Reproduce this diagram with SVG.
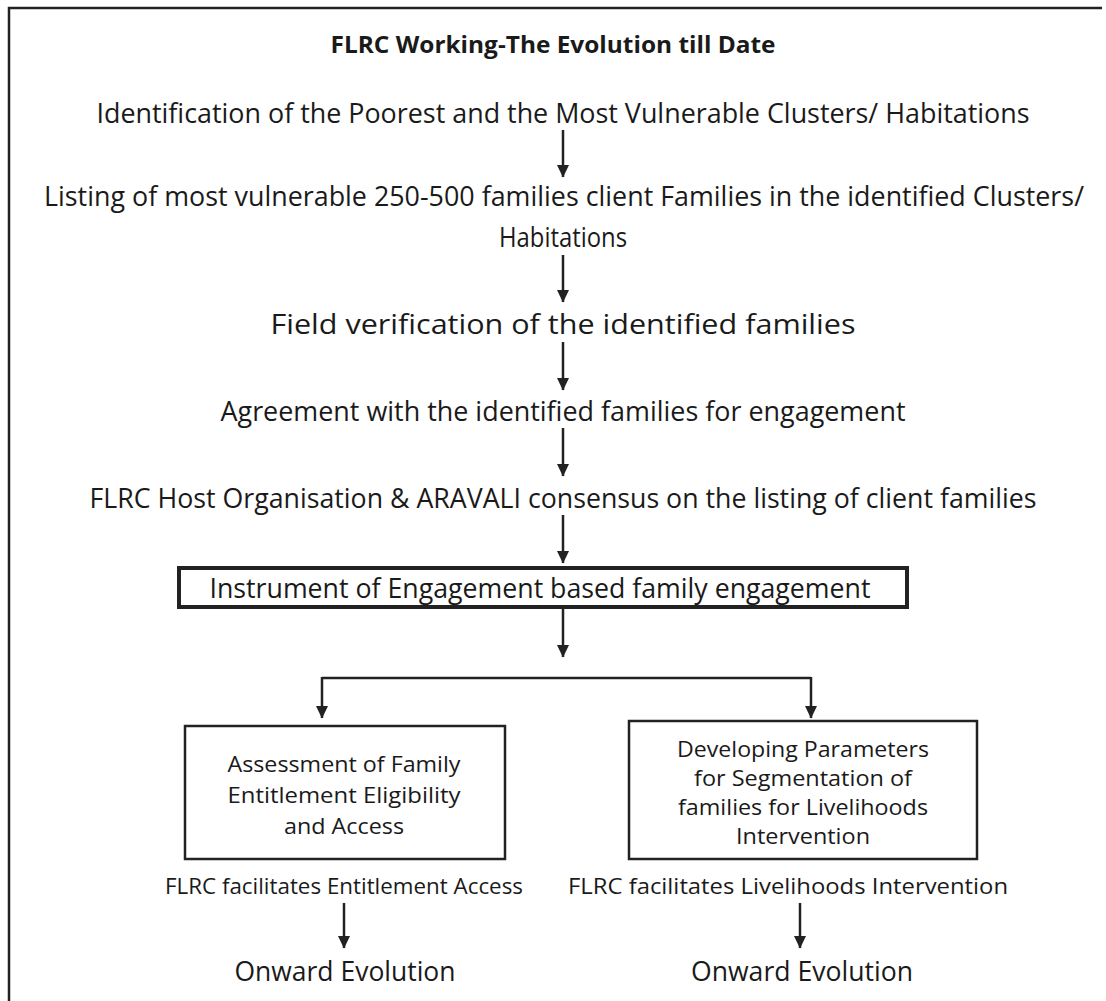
<svg xmlns="http://www.w3.org/2000/svg" width="1106" height="1001" viewBox="0 0 1106 1001">
<style>
text{font-family:"Open Sans","Liberation Sans",sans-serif;fill:#1a1a1a;text-anchor:middle}
.t{font-size:28px}
.b{font-size:22px}
.s{font-size:21px}
.o{font-size:28px}
.h{font-size:24px;font-weight:bold}
.ln{stroke:#222;stroke-width:2.5;fill:none}
.bx{stroke:#222;stroke-width:2.5;fill:#fff}
</style>
<defs>
<marker id="ah" markerWidth="13" markerHeight="13" refX="12" refY="6.5" orient="auto" markerUnits="userSpaceOnUse" viewBox="0 0 13 13">
<path d="M0,0.5 L12.5,6.5 L0,12.5 Z" fill="#222"/>
</marker>
</defs>
<path d="M9,1001 V8 H1102" stroke="#222" stroke-width="2.5" fill="none"/>
<g id="title"><text class="h" x="553" y="53" textLength="445" lengthAdjust="spacingAndGlyphs">FLRC Working-The Evolution till Date</text></g>
<g id="n1"><text class="t" x="563" y="123" textLength="933" lengthAdjust="spacingAndGlyphs">Identification of the Poorest and the Most Vulnerable Clusters/ Habitations</text></g>
<g id="n2"><text class="t" transform="translate(564,206) scale(0.8,1)" x="0" y="0" textLength="1300" lengthAdjust="spacingAndGlyphs">Listing of most vulnerable 250-500 families client Families in the identified Clusters/</text>
<text class="t" x="563" y="247" textLength="128" lengthAdjust="spacingAndGlyphs">Habitations</text></g>
<g id="n3"><text class="t" x="563" y="334" textLength="585" lengthAdjust="spacingAndGlyphs">Field verification of the identified families</text></g>
<g id="n4"><text class="t" x="563" y="421" textLength="685" lengthAdjust="spacingAndGlyphs">Agreement with the identified families for engagement</text></g>
<g id="n5"><text class="t" x="563" y="508" textLength="947" lengthAdjust="spacingAndGlyphs">FLRC Host Organisation &amp; ARAVALI consensus on the listing of client families</text></g>
<g id="n6"><rect x="179" y="568" width="728" height="39" fill="#fff" stroke="#222" stroke-width="4"/>
<text class="t" x="540" y="598" textLength="661" lengthAdjust="spacingAndGlyphs">Instrument of Engagement based family engagement</text></g>
<g id="n7"><rect class="bx" x="185" y="726" width="320" height="133"/>
<text class="b" x="344" y="772" textLength="233" lengthAdjust="spacingAndGlyphs">Assessment of Family</text>
<text class="b" x="344" y="803" textLength="233" lengthAdjust="spacingAndGlyphs">Entitlement Eligibility</text>
<text class="b" x="344" y="834" textLength="120" lengthAdjust="spacingAndGlyphs">and Access</text></g>
<g id="n8"><rect class="bx" x="629" y="721" width="348" height="138"/>
<text class="b" x="803" y="757" textLength="252" lengthAdjust="spacingAndGlyphs">Developing Parameters</text>
<text class="b" x="803" y="786" textLength="218" lengthAdjust="spacingAndGlyphs">for Segmentation of</text>
<text class="b" x="803" y="815" textLength="250" lengthAdjust="spacingAndGlyphs">families for Livelihoods</text>
<text class="b" x="803" y="844" textLength="134" lengthAdjust="spacingAndGlyphs">Intervention</text></g>
<g id="n9"><text class="s" x="344" y="894" textLength="358" lengthAdjust="spacingAndGlyphs">FLRC facilitates Entitlement Access</text></g>
<g id="n10"><text class="s" x="788" y="894" textLength="440" lengthAdjust="spacingAndGlyphs">FLRC facilitates Livelihoods Intervention</text></g>
<g id="n11"><text class="o" x="345" y="981" textLength="221" lengthAdjust="spacingAndGlyphs">Onward Evolution</text></g>
<g id="n12"><text class="o" x="802" y="981" textLength="222" lengthAdjust="spacingAndGlyphs">Onward Evolution</text></g>
<g id="connectors">
<path class="ln" d="M563,130 V177" marker-end="url(#ah)"/>
<path class="ln" d="M563,255 V302" marker-end="url(#ah)"/>
<path class="ln" d="M563,342 V390" marker-end="url(#ah)"/>
<path class="ln" d="M563,428 V476" marker-end="url(#ah)"/>
<path class="ln" d="M563,515 V563" marker-end="url(#ah)"/>
<path class="ln" d="M563,609 V657" marker-end="url(#ah)"/>
<path class="ln" d="M322,678 H811"/>
<path class="ln" d="M322,677 V718" marker-end="url(#ah)"/>
<path class="ln" d="M811,677 V718" marker-end="url(#ah)"/>
<path class="ln" d="M344,903 V948" marker-end="url(#ah)"/>
<path class="ln" d="M800,903 V948" marker-end="url(#ah)"/>
</g>
</svg>
